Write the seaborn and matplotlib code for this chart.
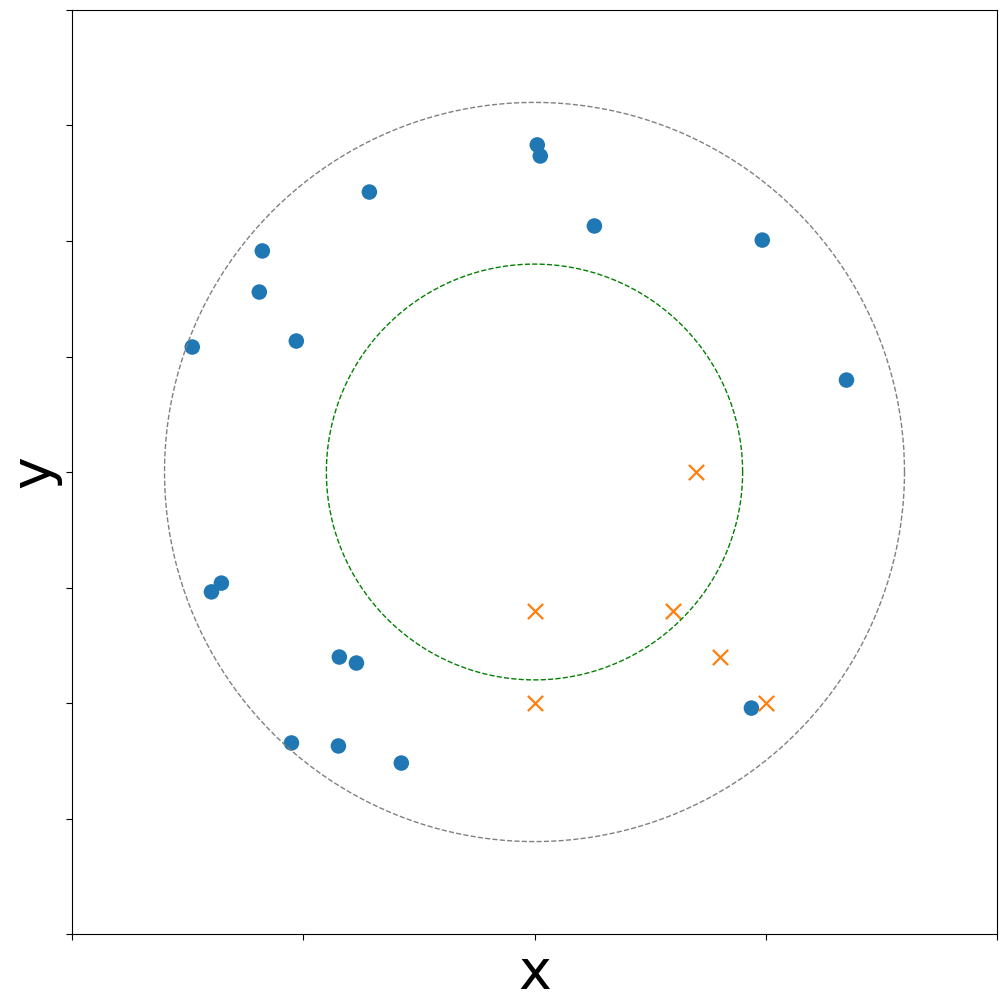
import numpy as np
import matplotlib
matplotlib.use("Agg")
import matplotlib.pyplot as plt
import seaborn as sns

# points outside / around the ring
blue_x = [0.012, 0.025, -0.714, 0.259, 0.985, -1.177, -1.190, -1.030, -1.480, 1.349,
          -1.354, -1.397, -0.844, -0.770, -1.051, -0.848, -0.576, 0.938]
blue_y = [1.416, 1.368, 1.212, 1.065, 1.004, 0.957, 0.779, 0.567, 0.541, 0.398,
          -0.481, -0.519, -0.801, -0.827, -1.173, -1.186, -1.260, -1.022]

# cross markers
orange_x = [0.7, 0.0, 0.6, 0.8, 0.0, 1.0]
orange_y = [0.0, -0.6, -0.6, -0.8, -1.0, -1.0]

r_outer = 1.6
r_inner = 0.9

sns.set_style("white")

fig = plt.figure(figsize=(10.07, 10.07), dpi=100)
ax = fig.add_axes([72 / 1007, 73 / 1007, 925 / 1007, 924 / 1007])

sns.scatterplot(x=blue_x, y=blue_y, color="#1f77b4", s=125, edgecolor="none", ax=ax)
sns.scatterplot(x=orange_x, y=orange_y, color="#ff7f0e", marker="x", s=120,
                linewidth=1.6, ax=ax)

theta = np.linspace(0, 2 * np.pi, 400)
ax.plot(r_outer * np.cos(theta), r_outer * np.sin(theta), ls="--", color="gray", lw=1)
ax.plot(r_inner * np.cos(theta), r_inner * np.sin(theta), ls="--", color="green", lw=1)

ax.set_xlim(-2, 2)
ax.set_ylim(-2, 2)
ax.set_xticks([-2, -1, 0, 1, 2])
ax.set_yticks(np.arange(-2, 2.01, 0.5))
ax.set_xticklabels([])
ax.set_yticklabels([])
ax.tick_params(direction="out", length=4, width=0.8, left=True, bottom=True,
               color="black")
for sp in ax.spines.values():
    sp.set_color("black")
    sp.set_linewidth(0.8)

ax.set_xlabel("x", fontsize=40, labelpad=2, color="black")
ax.set_ylabel("y", fontsize=40, labelpad=0, color="black")

fig.savefig("out.png", dpi=100)
